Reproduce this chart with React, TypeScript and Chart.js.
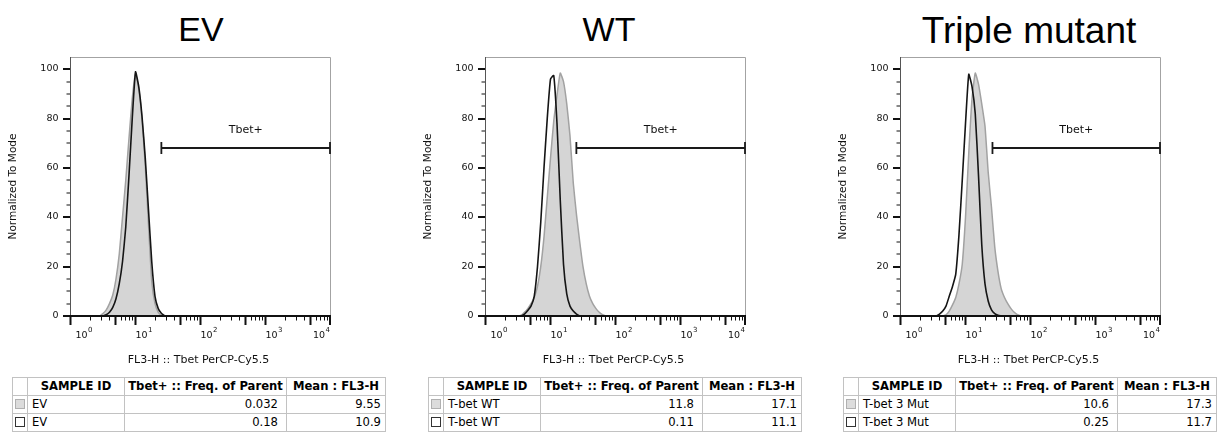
import React, { useEffect, useRef } from "react";
import { Chart, registerables } from "chart.js";

Chart.register(...registerables);

// ---------------- DATA ----------------
// Histogram bin centres on the FL3-H axis (log-spaced bins, 10^0.40 ... 10^2.00)
const binCenters = [
  2.51, 2.82, 3.16, 3.55, 3.98, 4.47, 5.01, 5.62, 6.31, 7.08, 7.94, 8.91, 10.0,
  11.22, 12.59, 14.13, 15.85, 17.78, 19.95, 22.39, 25.12, 28.18, 31.62, 35.48,
  39.81, 44.67, 50.12, 56.23, 63.1, 70.79, 79.43, 89.13, 100,
];

const _ = null;
// Normalized-to-mode counts per bin
const evGray = [_, 0, 1, 2.5, 5, 8.5, 15, 25, 40, 55, 72, 88, 98, 92, 80, 61, 37, 14, 5, 1.5, 0, _, _, _, _, _, _, _, _, _, _, _, _];
const evBlack = [_, _, 0, 0.5, 1.5, 3.5, 7, 13, 22, 36, 57, 80, 99, 93, 81, 64, 43, 22, 8, 3, 1, 0, _, _, _, _, _, _, _, _, _, _, _];
const wtGray = [_, _, 0, 0.3, 1.5, 3, 5, 7.5, 12, 20, 32, 48, 64, 79, 89.5, 98.5, 95, 86, 73, 54, 41, 30, 20, 13, 8, 5, 3, 1.5, 0.5, 0, _, _, _];
const wtBlack = [_, _, _, 0, 0.8, 2.2, 4, 8, 20, 38, 60, 80, 96, 97.5, 78, 47, 21, 9, 4, 2, 0.8, 0, _, _, _, _, _, _, _, _, _, _, _];
const triGray = [_, _, _, _, _, 0, 0.5, 2, 4.5, 7.5, 13, 21, 40, 66, 88, 98.5, 94, 86, 77, 58, 44, 28, 18, 11, 7.5, 5, 3, 1.5, 0.5, 0, _, _, _];
const triBlack = [_, _, _, 0, 0.8, 2, 4, 8, 12, 17, 33, 55, 78, 98, 93, 82, 57, 29, 13, 6, 2.5, 1, 0.3, 0, _, _, _, _, _, _, _, _, _];

const panelTitles = ["EV", "WT", "Triple mutant"];
const graySeries = [evGray, wtGray, triGray];
const blackSeries = [evBlack, wtBlack, triBlack];

const gateName = "Tbet+";
const gateStarts = [25, 25, 26];
const gateEnd = 10000;
const gateLevel = 68;

const xTickValues = [1, 10, 100, 1000, 10000];
const xTickExponents = ["0", "1", "2", "3", "4"];
const yTickValues = [0, 20, 40, 60, 80, 100];
const yAxisTitle = "Normalized To Mode";
const xAxisTitle = "FL3-H :: Tbet PerCP-Cy5.5";

const tableHeaders = ["SAMPLE ID", "Tbet+ :: Freq. of Parent", "Mean : FL3-H"];
const sampleIds = [["EV", "EV"], ["T-bet WT", "T-bet WT"], ["T-bet 3 Mut", "T-bet 3 Mut"]];
const freqOfParent = [["0.032", "0.18"], ["11.8", "0.11"], ["10.6", "0.25"]];
const meanFL3H = [["9.55", "10.9"], ["17.1", "11.1"], ["17.3", "11.7"]];

// ---------------- LAYOUT (page px) ----------------
const FRAME_LEFTS = [70.5, 485.5, 900.5];
const FRAME_W = 260;
const FRAME_TOP = 57;
const FRAME_BOTTOM = 316;
const CANVAS_TOP = 50;
const CANVAS_H = 322;
const CANVAS_W = 350;
const TITLE_CENTERS = [201, 609, 1029];
const TITLE_SIZES = [34, 34, 37];
const TABLE_LEFTS = [12, 428, 843];

const FONT = '"DejaVu Sans", "Noto Sans", sans-serif';

const flowDecor = {
  id: "flowDecor",
  afterDatasetsDraw(chart: any, _args: any, opts: any) {
    const { ctx, chartArea: a } = chart;
    const xs = chart.scales.x;
    const ys = chart.scales.y;
    ctx.save();

    // frame
    ctx.lineWidth = 1;
    ctx.strokeStyle = "#a3a3a3";
    ctx.beginPath();
    ctx.moveTo(a.left, a.top + 0.5);
    ctx.lineTo(a.right, a.top + 0.5);
    ctx.lineTo(a.right, a.bottom);
    ctx.stroke();
    ctx.strokeStyle = "#555";
    ctx.beginPath();
    ctx.moveTo(a.left, a.top);
    ctx.lineTo(a.left, a.bottom);
    ctx.stroke();
    ctx.fillStyle = "#111";
    ctx.fillRect(a.left - 0.5, a.bottom - 1, a.right - a.left + 1, 2);

    // y ticks
    for (let v = 0; v <= 100; v += 5) {
      const py = Math.round(ys.getPixelForValue(v));
      if (v % 20 === 0) ctx.fillRect(a.left - 7.5, py - 1, 7, 2);
      else ctx.fillRect(a.left - 4, py - 0.5, 3.5, 1);
    }
    ctx.font = `9.5px ${FONT}`;
    ctx.textAlign = "right";
    ctx.textBaseline = "middle";
    yTickValues.forEach((v) => {
      ctx.fillText(String(v), a.left - 12, Math.round(ys.getPixelForValue(v)));
    });

    // x ticks
    for (let d = 1; d < 10000; d *= 10) {
      for (let m = 1; m <= 9; m++) {
        const px = Math.round(xs.getPixelForValue(d * m) - 0.5) + 0.5;
        if (m === 1 || m === 5) ctx.fillRect(px - 1, a.bottom, 2, 9);
        else ctx.fillRect(px - 0.5, a.bottom, 1, 4.5);
      }
    }
    {
      const px = xs.getPixelForValue(10000);
      ctx.fillRect(px - 1.5, a.bottom, 2, 9);
    }
    ctx.textAlign = "left";
    ctx.textBaseline = "alphabetic";
    xTickValues.forEach((v, i) => {
      const px = xs.getPixelForValue(v);
      ctx.font = `9.5px ${FONT}`;
      const wb = ctx.measureText("10").width;
      ctx.font = `7px ${FONT}`;
      const we = ctx.measureText(xTickExponents[i]).width;
      let lx = px;
      if (i === 0) lx = px + 5;
      if (i === xTickValues.length - 1) lx = px - wb - we - 1;
      ctx.font = `9.5px ${FONT}`;
      ctx.fillText("10", lx, a.bottom + 22);
      ctx.font = `7px ${FONT}`;
      ctx.fillText(xTickExponents[i], lx + wb + 0.5, a.bottom + 16);
    });

    // axis titles
    ctx.font = `11px ${FONT}`;
    ctx.textAlign = "center";
    ctx.textBaseline = "middle";
    ctx.fillText(xAxisTitle, (a.left + a.right) / 2 - 2, a.bottom + 44.5);
    ctx.save();
    ctx.translate(a.left - 57, (a.top + a.bottom) / 2);
    ctx.rotate(-Math.PI / 2);
    ctx.font = `10.5px ${FONT}`;
    ctx.fillText(yAxisTitle, 0, 0);
    ctx.restore();

    // gate
    const gy = Math.round(ys.getPixelForValue(gateLevel));
    const gx1 = xs.getPixelForValue(opts.gateStart);
    const gx2 = Math.min(xs.getPixelForValue(gateEnd), a.right) - 0.5;
    ctx.strokeStyle = "#1a1a1a";
    ctx.lineWidth = 1.8;
    ctx.beginPath();
    ctx.moveTo(gx1, gy);
    ctx.lineTo(gx2, gy);
    ctx.moveTo(gx1, gy - 6);
    ctx.lineTo(gx1, gy + 6);
    ctx.moveTo(gx2, gy - 6);
    ctx.lineTo(gx2, gy + 6);
    ctx.stroke();
    ctx.font = `11px ${FONT}`;
    ctx.fillStyle = "#111";
    ctx.fillText(gateName, (gx1 + gx2) / 2, gy - 17.5);

    ctx.restore();
  },
};

function Histogram({ index }: { index: number }) {
  const ref = useRef<HTMLCanvasElement | null>(null);
  useEffect(() => {
    const canvas = ref.current;
    if (!canvas) return;
    const left = FRAME_LEFTS[index];
    const canvasLeft = left - 70.5;
    const padLeft = left - canvasLeft;
    const padRight = CANVAS_W - padLeft - FRAME_W;
    const chart = new Chart(canvas, {
      type: "line",
      data: {
        datasets: [
          {
            label: "black",
            data: binCenters.map((x, i) => ({ x, y: blackSeries[index][i] as any })),
            order: 0,
            borderColor: "#151515",
            borderWidth: 1.6,
            fill: false,
            pointRadius: 0,
            tension: 0.15,
          },
          {
            label: "gray",
            data: binCenters.map((x, i) => ({ x, y: graySeries[index][i] as any })),
            order: 1,
            borderColor: "#a2a2a2",
            backgroundColor: "#d5d5d5",
            borderWidth: 1.5,
            fill: "origin",
            pointRadius: 0,
            tension: 0.15,
          },
        ],
      },
      options: {
        animation: false,
        responsive: false,
        devicePixelRatio: 1,
        spanGaps: false,
        layout: {
          padding: {
            left: padLeft,
            right: padRight,
            top: FRAME_TOP - CANVAS_TOP,
            bottom: CANVAS_TOP + CANVAS_H - FRAME_BOTTOM,
          },
        },
        plugins: {
          legend: { display: false },
          tooltip: { enabled: false },
          flowDecor: { gateStart: gateStarts[index] },
        } as any,
        scales: {
          x: { type: "logarithmic", min: 1, max: 10000, display: false },
          y: { type: "linear", min: 0, max: 105, display: false },
        },
      },
      plugins: [flowDecor as any],
    });
    return () => chart.destroy();
  }, [index]);
  return (
    <canvas
      ref={ref}
      width={CANVAS_W}
      height={CANVAS_H}
      style={{
        position: "absolute",
        left: FRAME_LEFTS[index] - 70.5,
        top: CANVAS_TOP,
        width: CANVAS_W,
        height: CANVAS_H,
      }}
    />
  );
}

const cell: React.CSSProperties = {
  border: "1px solid #c2c2c2",
  padding: "0 4px",
  height: 17,
  lineHeight: "17px",
  whiteSpace: "nowrap",
  overflow: "hidden",
};

function CheckIcon({ filled }: { filled: boolean }) {
  return (
    <span
      style={{
        display: "inline-block",
        width: 8,
        height: 8,
        border: filled ? "1px solid #b0b0b0" : "1px solid #333",
        background: filled ? "#dcdcdc" : "#fff",
        verticalAlign: "middle",
        marginTop: -2,
      }}
    />
  );
}

function DataTable({ index }: { index: number }) {
  return (
    <table
      style={{
        position: "absolute",
        left: TABLE_LEFTS[index],
        top: 377,
        borderCollapse: "collapse",
        tableLayout: "fixed",
        width: 373,
        fontFamily: FONT,
        fontSize: 11.6,
        color: "#000",
        border: "1px solid #a0a0a0",
      }}
    >
      <colgroup>
        <col style={{ width: 15 }} />
        <col style={{ width: 97 }} />
        <col style={{ width: 162 }} />
        <col style={{ width: 99 }} />
      </colgroup>
      <thead>
        <tr>
          <th style={cell}></th>
          {tableHeaders.map((h) => (
            <th key={h} style={{ ...cell, fontWeight: "bold", textAlign: "center", padding: "0 2px" }}>
              {h}
            </th>
          ))}
        </tr>
      </thead>
      <tbody>
        {[0, 1].map((r) => (
          <tr key={r}>
            <td style={{ ...cell, padding: "0 0 0 2px" }}>
              <CheckIcon filled={r === 0} />
            </td>
            <td style={{ ...cell, textAlign: "left" }}>{sampleIds[index][r]}</td>
            <td style={{ ...cell, textAlign: "right", paddingRight: 8 }}>{freqOfParent[index][r]}</td>
            <td style={{ ...cell, textAlign: "right", paddingRight: 4 }}>{meanFL3H[index][r]}</td>
          </tr>
        ))}
      </tbody>
    </table>
  );
}

export default function App() {
  return (
    <div
      style={{
        position: "absolute",
        left: 0,
        top: 0,
        width: 1230,
        height: 433,
        background: "#fff",
        overflow: "hidden",
      }}
    >
      {panelTitles.map((t, i) => (
        <div
          key={t}
          style={{
            position: "absolute",
            left: TITLE_CENTERS[i] - 150,
            width: 300,
            top: 12,
            textAlign: "center",
            fontFamily: '"Liberation Sans", Arial, sans-serif',
            fontSize: TITLE_SIZES[i],
            lineHeight: `${TITLE_SIZES[i]}px`,
            color: "#000",
          }}
        >
          {t}
        </div>
      ))}
      {[0, 1, 2].map((i) => (
        <Histogram key={`h${i}`} index={i} />
      ))}
      {[0, 1, 2].map((i) => (
        <DataTable key={`t${i}`} index={i} />
      ))}
    </div>
  );
}
